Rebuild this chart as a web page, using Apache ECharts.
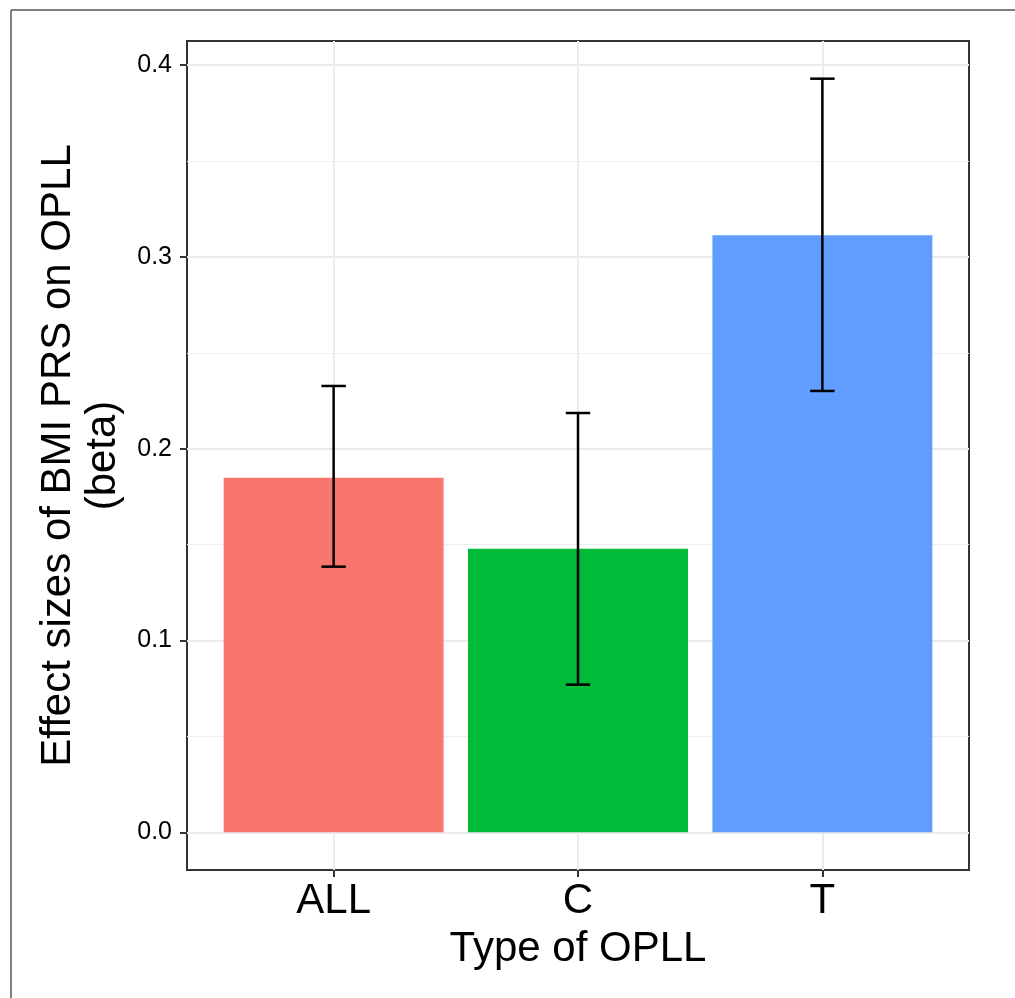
<!DOCTYPE html>
<html>
<head>
<meta charset="utf-8">
<script src="https://cdn.jsdelivr.net/npm/echarts@6/dist/echarts.min.js"></script>
<style>
  html, body { margin: 0; padding: 0; background: #ffffff; }
  #chart { width: 1015px; height: 998px; }
</style>
</head>
<body>
<div id="chart"></div>
<script>
// ---- data ----
const categories = ['ALL', 'C', 'T'];
const beta  = [0.1848, 0.1478, 0.3113];
const lower = [0.1385, 0.0770, 0.2301];
const upper = [0.2327, 0.2186, 0.3929];
const barColors = ['#F8766D', '#00BA38', '#619CFF'];
const yTicks = [0, 0.1, 0.2, 0.3, 0.4];
const yMinorTicks = [0.05, 0.15, 0.25, 0.35];
const xTicks = [1, 2, 3];

// ---- layout ----
const FONT = '"Liberation Sans", Arial, Helvetica, sans-serif';
const gridLeft = 187, gridTop = 41, gridRight = 46, gridBottom = 128;
const gridWidth = 1015 - gridLeft - gridRight;
const xMin = 0.4, xMax = 3.6;             // ggplot discrete expansion (0.6)
const yLo = Math.min(0, Math.min(...lower));
const yHi = Math.max(...upper);
const yPad = 0.05 * (yHi - yLo);
const yMin = yLo - yPad, yMax = yHi + yPad;
const barWidthPx = 0.9 * gridWidth / (xMax - xMin);
const capWidth = 0.1;

const chart = echarts.init(document.getElementById('chart'), null, { renderer: 'canvas' });

const barData = categories.map((c, i) => ({
  value: [i + 1, beta[i]],
  itemStyle: { color: barColors[i] }
}));
const errData = categories.map((c, i) => [i + 1, lower[i], upper[i]]);

const option = {
  backgroundColor: '#ffffff',
  animation: false,
  textStyle: { fontFamily: FONT },
  grid: {
    left: gridLeft, top: gridTop, right: gridRight, bottom: gridBottom,
    show: true, borderColor: '#333333', borderWidth: 2, backgroundColor: 'transparent'
  },
  xAxis: [{
    type: 'value', min: xMin, max: xMax,
    name: 'Type of OPLL', nameLocation: 'middle', nameGap: 58,
    nameTextStyle: { fontSize: 42, color: '#000', fontFamily: FONT },
    axisLine: { show: false, onZero: false },
    axisTick: { show: true, length: 7, customValues: xTicks, lineStyle: { color: '#333333', width: 2 } },
    axisLabel: {
      customValues: xTicks, margin: 10, fontSize: 42, color: '#000', fontFamily: FONT,
      formatter: v => categories[Math.round(v) - 1]
    },
    splitLine: { show: true, lineStyle: { color: '#EBEBEB', width: 2 } }
  }],
  yAxis: [{
    type: 'value', min: yMin, max: yMax,
    name: 'Effect sizes of BMI PRS on OPLL\n(beta)', nameLocation: 'middle', nameGap: 60, nameRotate: 90,
    nameTextStyle: { fontSize: 42, lineHeight: 45, color: '#000', fontFamily: FONT, align: 'center' },
    axisLine: { show: false, onZero: false },
    axisTick: { show: true, length: 7, customValues: yTicks, lineStyle: { color: '#333333', width: 2 } },
    axisLabel: {
      customValues: yTicks, margin: 15, fontSize: 25, color: '#000', fontFamily: FONT,
      formatter: v => v.toFixed(1)
    },
    splitLine: { show: true, lineStyle: { color: '#EBEBEB', width: 2 } }
  }, {
    type: 'value', min: yMin, max: yMax, position: 'left',
    axisLine: { show: false }, axisLabel: { show: false },
    axisTick: { show: false, customValues: yMinorTicks },
    splitLine: { show: true, lineStyle: { color: '#EFEFEF', width: 1 } }
  }],
  series: [{
    type: 'bar', xAxisIndex: 0, yAxisIndex: 0,
    barWidth: barWidthPx, data: barData, z: 2
  }, {
    type: 'custom', xAxisIndex: 0, yAxisIndex: 0, z: 3,
    data: errData,
    renderItem: (params, api) => {
      const x = api.value(0);
      const pLo = api.coord([x, api.value(1)]);
      const pHi = api.coord([x, api.value(2)]);
      const half = api.size([capWidth, 0])[0] / 2;
      const st = { stroke: '#000000', lineWidth: 2.5 };
      return {
        type: 'group',
        children: [
          { type: 'line', shape: { x1: pLo[0], y1: pHi[1], x2: pLo[0], y2: pLo[1] }, style: st },
          { type: 'line', shape: { x1: pHi[0] - half, y1: pHi[1], x2: pHi[0] + half, y2: pHi[1] }, style: st },
          { type: 'line', shape: { x1: pLo[0] - half, y1: pLo[1], x2: pLo[0] + half, y2: pLo[1] }, style: st }
        ]
      };
    }
  }],
  graphic: [
    { type: 'line', shape: { x1: 11, y1: 10, x2: 11, y2: 998 }, style: { stroke: '#555555', lineWidth: 1.5 }, silent: true },
    { type: 'line', shape: { x1: 11, y1: 10, x2: 1015, y2: 10 }, style: { stroke: '#555555', lineWidth: 1.5 }, silent: true }
  ]
};
chart.setOption(option);
</script>
</body>
</html>
